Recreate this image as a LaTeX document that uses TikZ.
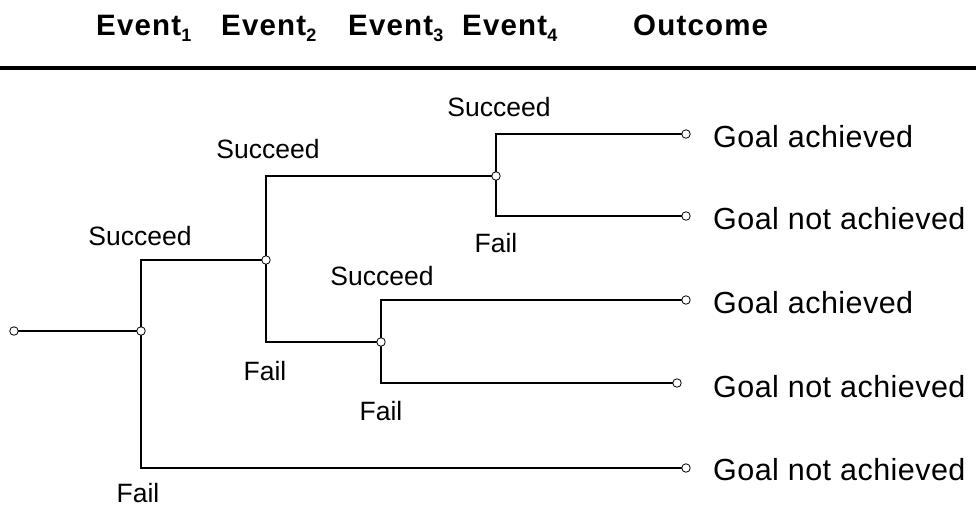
\documentclass[tikz,border=0pt]{standalone}
\usepackage{fontspec}
\setmainfont{Liberation Sans}
\newfontfamily\headfont[LetterSpace=4]{Liberation Sans}
\newfontfamily\outfont[LetterSpace=1.5]{Liberation Sans}
\begin{document}
\begin{tikzpicture}[x=1pt,y=-1pt,
  wire/.style={line width=2pt},
  dot/.style={circle,draw,fill=white,inner sep=0pt,minimum size=8.5pt,line width=0.8pt},
  head/.style={font=\headfont\fontsize{29.5}{32}\selectfont\bfseries,anchor=base west,inner sep=0pt},
  brlab/.style={font=\fontsize{26.5}{30}\selectfont,inner sep=0pt},
  outlab/.style={font=\outfont\fontsize{30.5}{34}\selectfont,anchor=west,inner sep=0pt}]
\useasboundingbox (0,0) rectangle (976,509);
% header
\node[head] (h1) at (96,35) {Event\raisebox{-6pt}{\fontsize{18}{20}\selectfont 1}};
\node[head] (h2) at (221,35) {Event\raisebox{-6pt}{\fontsize{18}{20}\selectfont 2}};
\node[head] (h3) at (348,35) {Event\raisebox{-6pt}{\fontsize{18}{20}\selectfont 3}};
\node[head] (h4) at (462,35) {Event\raisebox{-6pt}{\fontsize{18}{20}\selectfont 4}};
\node[head] (h5) at (633,35) {Outcome};
\coordinate (rl) at (0,67.5);
\coordinate (rr) at (976,67.5);
\draw[line width=4pt] (rl) -- (rr);
% points
\coordinate (r) at (14,331);
\coordinate (n1) at (141,331);
\coordinate (n2) at (266,260);
\coordinate (n3) at (381,342);
\coordinate (n4) at (496,176);
\coordinate (e1) at (686,134);
\coordinate (e2) at (686,216);
\coordinate (e3) at (686,300);
\coordinate (e4) at (677,383);
\coordinate (e5) at (686,468);
% wires
\draw[wire] (r) -- (n1);
\draw[wire] (n1) |- (n2);
\draw[wire] (n1) |- (e5);
\draw[wire] (n2) |- (n4);
\draw[wire] (n2) |- (n3);
\draw[wire] (n4) |- (e1);
\draw[wire] (n4) |- (e2);
\draw[wire] (n3) |- (e3);
\draw[wire] (n3) |- (e4);
% dots
\foreach \p in {r,n1,n2,n3,n4,e1,e2,e3,e4,e5} \node[dot] (d\p) at (\p) {};
% branch labels
\node[brlab] (s1) at (140,236) {Succeed};
\node[brlab] (f1) at (138,493) {Fail};
\node[brlab] (s2) at (268,149) {Succeed};
\node[brlab] (f2) at (265,371) {Fail};
\node[brlab] (s3) at (382,276) {Succeed};
\node[brlab] (f3) at (381,411) {Fail};
\node[brlab] (s4) at (499,107) {Succeed};
\node[brlab] (f4) at (496,243) {Fail};
% outcomes
\node[outlab] (o1) at (713,137) {Goal achieved};
\node[outlab] (o2) at (713,219) {Goal not achieved};
\node[outlab] (o3) at (713,303) {Goal achieved};
\node[outlab] (o4) at (713,387) {Goal not achieved};
\node[outlab] (o5) at (713,470) {Goal not achieved};
\end{tikzpicture}
\end{document}
